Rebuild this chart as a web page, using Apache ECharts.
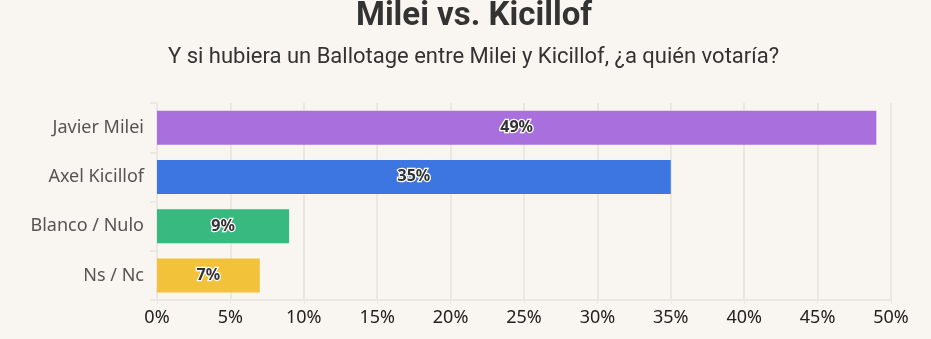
<!DOCTYPE html>
<html><head><meta charset="utf-8">
<script src="https://cdn.jsdelivr.net/npm/echarts@6/dist/echarts.min.js"></script>
<style>html,body{margin:0;padding:0;background:#f9f5f0;}#c{width:931px;height:339px;}</style>
</head><body><div id="c"></div>
<script>
const categories = ['Javier Milei', 'Axel Kicillof', 'Blanco / Nulo', 'Ns / Nc'];
const values = [49, 35, 9, 7];
const colors = ['#a970dd', '#3d76e0', '#38b97f', '#f2c23a'];
const xTicks = [0, 5, 10, 15, 20, 25, 30, 35, 40, 45, 50];

const chart = echarts.init(document.getElementById('c'));
chart.setOption({
  backgroundColor: '#f9f5f0',
  title: [{
    text: 'Milei vs. Kicillof', left: 356, top: 0, padding: 0,
    textStyle: { fontFamily: 'Roboto', fontWeight: 'bold', fontSize: 33, color: '#333' }
  }, {
    text: 'Y si hubiera un Ballotage entre Milei y Kicillof, ¿a quién votaría?', left: 168, top: 46, padding: 0,
    textStyle: { fontFamily: 'Roboto', fontWeight: 'normal', fontSize: 22, color: '#333' }
  }],
  grid: { left: 157, right: 40, top: 103, bottom: 39, containLabel: false },
  xAxis: {
    type: 'value', min: xTicks[0], max: xTicks[xTicks.length - 1], interval: 5,
    axisLine: { show: true, lineStyle: { color: '#ebe8e4', width: 2 } },
    axisTick: { show: true, length: 4, lineStyle: { color: '#ebe8e4' } },
    splitLine: { show: true, lineStyle: { color: '#ebe8e4', width: 2 } },
    axisLabel: { formatter: '{value}%', color: '#222', fontFamily: 'Noto Sans', fontSize: 18, margin: 9 }
  },
  yAxis: {
    type: 'category', data: categories, inverse: true,
    axisLine: { show: false },
    axisTick: { show: true, length: 7, lineStyle: { color: '#ebe8e4', width: 2 } },
    axisLabel: { color: '#555', fontFamily: 'Noto Sans', fontSize: 18, margin: 13 }
  },
  series: [{
    type: 'bar', barWidth: 34,
    data: values.map((v, i) => ({ value: v, itemStyle: { color: colors[i] } })),
    label: {
      show: true, position: 'inside', formatter: '{c}%',
      color: '#333', fontFamily: 'Noto Sans', fontWeight: 'bold', fontSize: 16,
      textBorderColor: '#fff', textBorderWidth: 2.5
    }
  }]
});
</script></body></html>
